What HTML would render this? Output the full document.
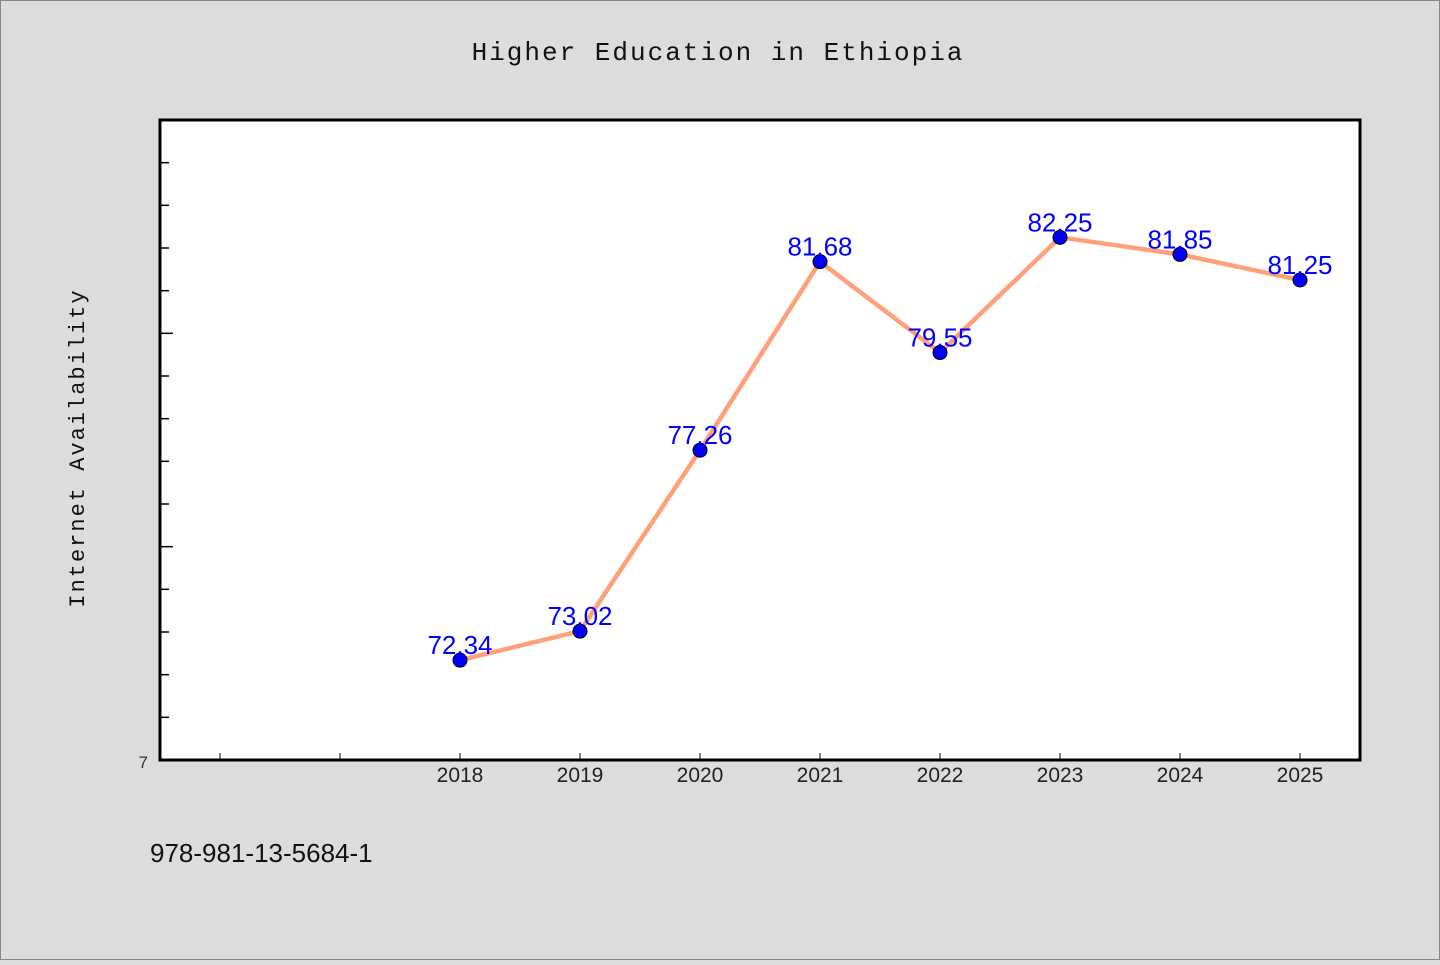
<!DOCTYPE html>
<html><head><meta charset="utf-8"><style>
body{margin:0;width:1440px;height:960px;background:#dcdcdc;overflow:hidden;font-family:"Liberation Sans","Noto Sans CJK SC",sans-serif}
</style></head><body>
<svg width="1440" height="960" xmlns="http://www.w3.org/2000/svg">
<rect x="0.5" y="0.5" width="1439" height="959" fill="#dcdcdc" stroke="#888"/>
<text x="718" y="60" text-anchor="middle" font-size="26" letter-spacing="2" font-family="Liberation Mono, monospace" fill="#111">Higher Education in Ethiopia</text>
<text transform="translate(84,448) rotate(-90)" text-anchor="middle" font-size="22" letter-spacing="2" font-family="Liberation Mono, monospace" fill="#111">Internet Availability</text>
<rect x="160" y="120" width="1200" height="640" fill="#fff" stroke="#000" stroke-width="3"/>
<g id="axes"></g>
<g id="series"></g>
<text x="148" y="768" text-anchor="end" font-size="17" fill="#333">7</text>
<text x="150" y="862" font-size="26" fill="#111">978-981-13-5684-1</text>
</svg>
<script>
const years=[2018,2019,2020,2021,2022,2023,2024,2025];
const values=[72.34,73.02,77.26,81.68,79.55,82.25,81.85,81.25];
const labels=["72.34","73.02","77.26","81.68","79.55","82.25","81.85","81.25"];
const yMin=70,yMax=85;
const NS="http://www.w3.org/2000/svg";
function x(v){return 160+(v-2015.5)*120;}
function y(v){return 760-(v-yMin)/(yMax-yMin)*640;}
function mk(t,a,p){const e=document.createElementNS(NS,t);for(const k in a)e.setAttribute(k,a[k]);p.appendChild(e);return e;}
const ax=document.getElementById('axes'),sr=document.getElementById('series');
for(let v=yMin+1;v<yMax;v++){
 const t=mk('line',{x1:161,x2:(v%5===0)?173:169,y1:y(v),y2:y(v),stroke:'#000','stroke-width':1.5},ax);
 
 
}
for(let yr=2016;yr<=2025;yr++){
 const t=mk('line',{x1:x(yr),x2:x(yr),y1:753,y2:759,stroke:'#000','stroke-width':1},ax);
 
 
}
years.forEach((yr)=>{
 const t=mk('text',{x:x(yr),y:782,'text-anchor':'middle','font-size':21,fill:'#222'},ax);
 t.textContent=yr;
 
 
});
const pl=mk('polyline',{points:years.map((yr,i)=>x(yr)+','+y(values[i])).join(' '),fill:'none',stroke:'#ffa07a','stroke-width':4.5},sr);


years.forEach((yr,i)=>{
 const c=mk('circle',{cx:x(yr),cy:y(values[i]),r:7,fill:'#0000ff',stroke:'#000','stroke-width':1},sr);
 
 
});
years.forEach((yr,i)=>{
 const t=mk('text',{x:x(yr),y:y(values[i])-6,'text-anchor':'middle','font-size':26,fill:'#0000ff'},sr);
 t.textContent=labels[i];
 
 
});
</script>
</body></html>
